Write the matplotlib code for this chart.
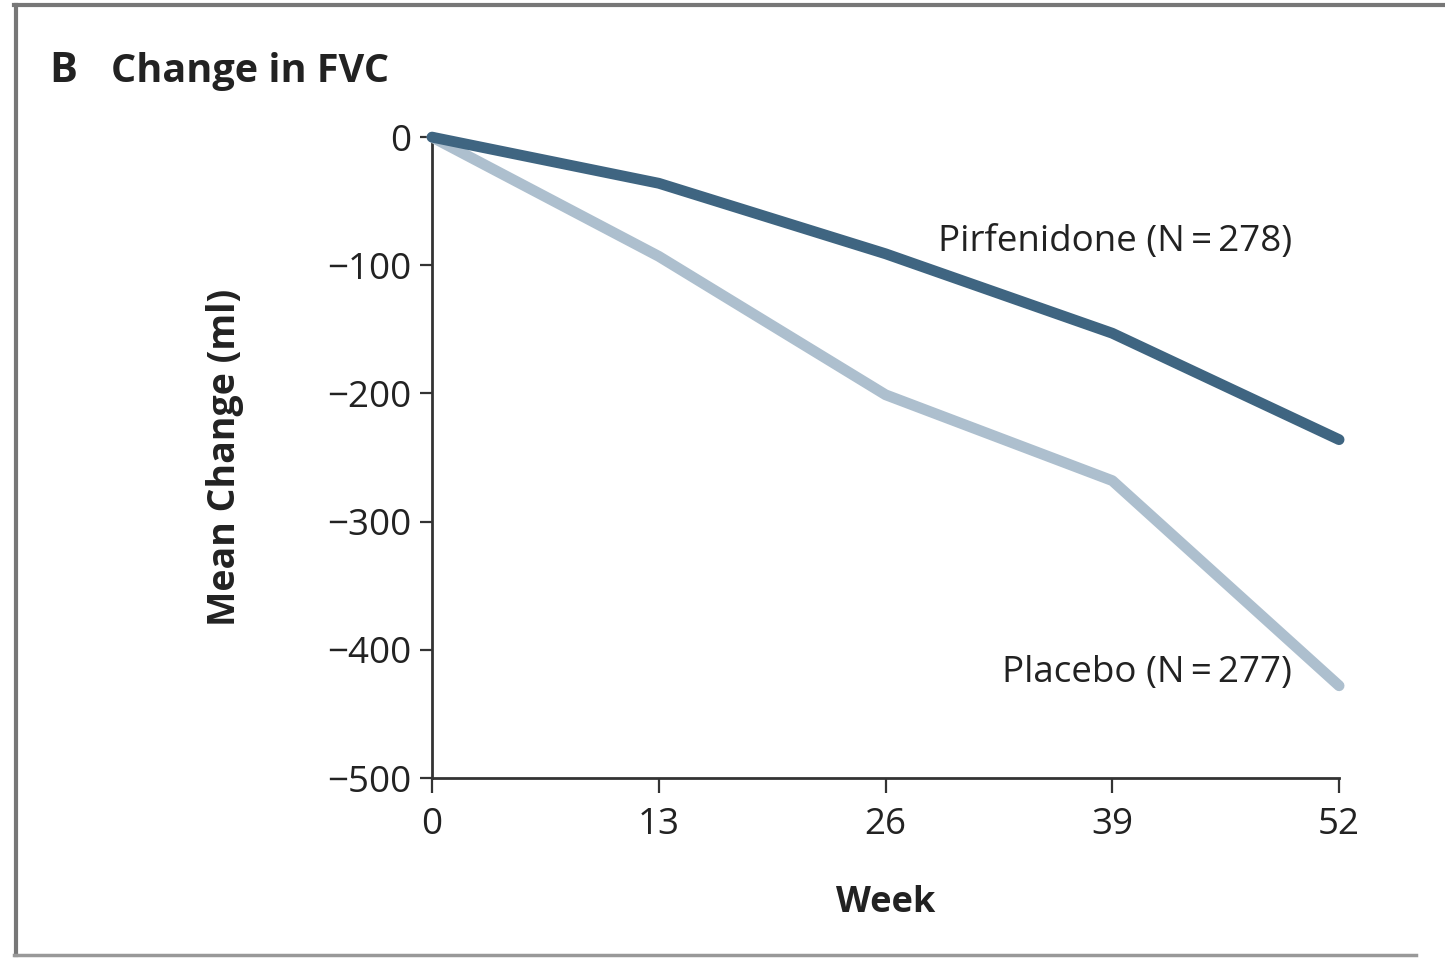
import matplotlib
matplotlib.use("Agg")
import matplotlib.pyplot as plt
from matplotlib.lines import Line2D

# data
weeks = [0, 13, 26, 39, 52]
pirfenidone = [0, -36, -91, -153, -236]
placebo = [0, -93, -201, -268, -428]
yticks = [0, -100, -200, -300, -400, -500]

dark = "#3f6581"
light = "#adbfce"

plt.rcParams['font.family'] = ['Open Sans', 'DejaVu Sans']

fig = plt.figure(figsize=(14.45, 9.59), dpi=100)
ax = fig.add_axes([0.299, 0.1887, 0.6277, 0.6683])

ax.plot(weeks, placebo, color=light, lw=7.8, solid_capstyle='round',
        solid_joinstyle='round', clip_on=False, zorder=3)
ax.plot(weeks, pirfenidone, color=dark, lw=7.8, solid_capstyle='round',
        solid_joinstyle='round', clip_on=False, zorder=4)

ax.set_xlim(0, 52)
ax.set_ylim(-500, 0)
ax.set_xticks(weeks)
ax.set_yticks(yticks)
ax.set_xticklabels([str(w) for w in weeks])
ax.set_yticklabels(['0' if v == 0 else '\u2212%d' % -v for v in yticks])

for s in ['top', 'right']:
    ax.spines[s].set_visible(False)
for s in ['left', 'bottom']:
    ax.spines[s].set_linewidth(2)
    ax.spines[s].set_color('#333333')
ax.tick_params(axis='y', direction='out', length=9, width=1.6, color='#333333',
               labelsize=26.5, pad=6, labelcolor='#222222')
ax.tick_params(axis='x', direction='out', length=11, width=1.6, color='#333333',
               labelsize=26.5, pad=10, labelcolor='#222222')

ax.set_xlabel("Week", fontsize=26, fontweight='bold', labelpad=30, color='#222222')
ax.set_ylabel("Mean Change (ml)", fontsize=27, fontweight='bold', labelpad=60,
              color='#222222')

ax.text(49.3, -82, "Pirfenidone (N\u2009=\u2009278)", fontsize=26.5, ha='right',
        va='center', color='#222222')
ax.text(49.3, -418, "Placebo (N\u2009=\u2009277)", fontsize=26.5, ha='right',
        va='center', color='#222222')

fig.text(0.034, 0.925, "B", fontsize=30, fontweight='bold', va='center',
         color='#222222')
fig.text(0.077, 0.925, "Change in FVC", fontsize=28.5, fontweight='bold',
         va='center', color='#222222')

# panel frame
fig.add_artist(Line2D([0.010, 1.0], [0.995, 0.995], color='#777777', lw=3,
                      transform=fig.transFigure))
fig.add_artist(Line2D([0.011, 0.011], [0.004, 0.995], color='#777777', lw=3,
                      transform=fig.transFigure))
fig.add_artist(Line2D([0.010, 0.98], [0.004, 0.004], color='#999999', lw=2.5,
                      transform=fig.transFigure))

fig.savefig("out.png", dpi=100)
